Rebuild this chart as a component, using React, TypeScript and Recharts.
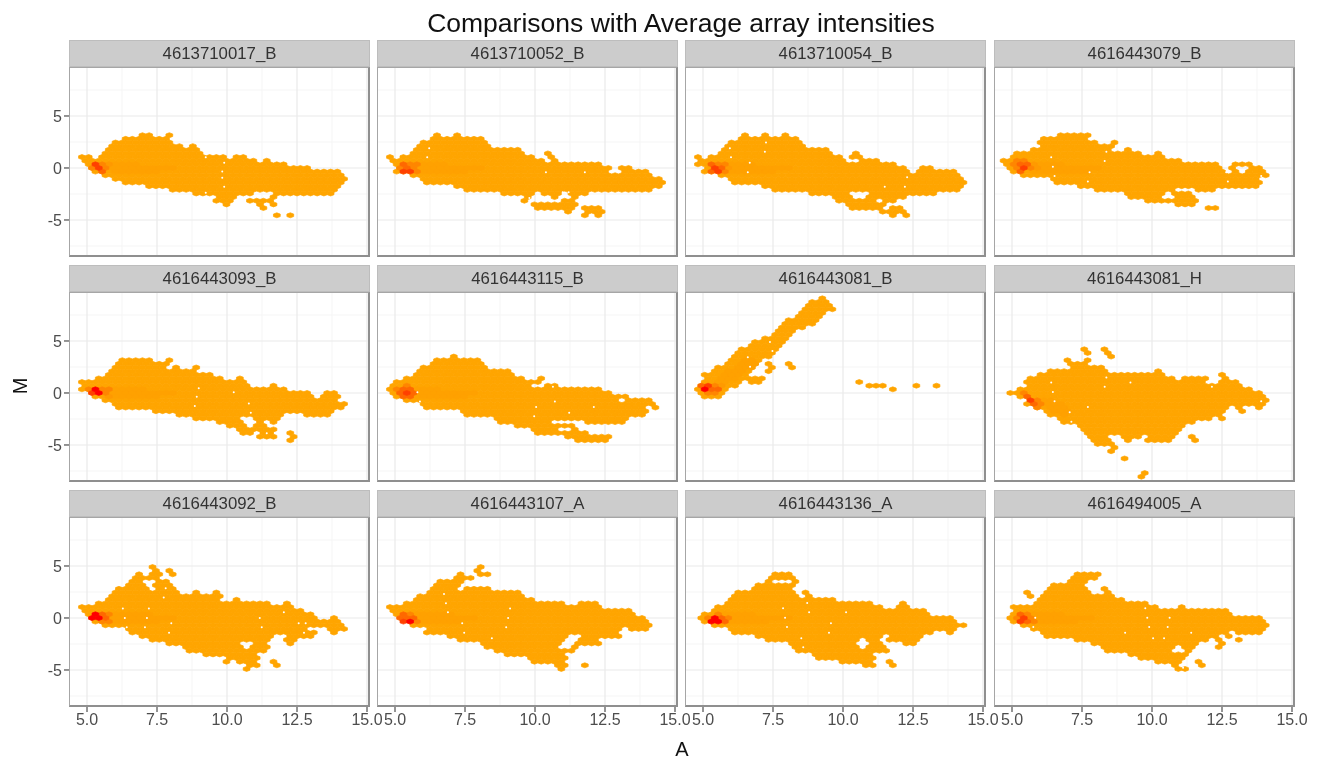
import React from 'react';
import { ScatterChart, Scatter, XAxis, YAxis, CartesianGrid } from 'recharts';

const sampleNames = [
  '4613710017_B', '4613710052_B', '4613710054_B', '4616443079_B',
  '4616443093_B', '4616443115_B', '4616443081_B', '4616443081_H',
  '4616443092_B', '4616443107_A', '4616443136_A', '4616494005_A',
];

const aTicks = [5, 7.5, 10, 12.5, 15];
const aMinorTicks = [6.25, 8.75, 11.25, 13.75];
const mTicks = [-5, 0, 5];
const mMinorTicks = [-7.5, -2.5, 2.5, 7.5];

// each row: M of the hex row, then from/to pairs of A for the filled runs
const rows01 = [
  [3.15, 6.77, 7.37, 7.73, 8.02], [2.8, 6.3, 8.0], [2.45, 5.82, 8.14], [2.1, 5.64, 8.56, 8.74, 8.98],
  [1.75, 5.52, 9.1], [1.4, 5.4, 9.24], [1.05, 4.75, 5.1, 5.3, 9.95, 10.3, 10.66], [0.7, 4.7, 11.1, 11.4, 11.65],
  [0.35, 4.8, 12.25], [0, 5, 12.95], [-0.35, 5.05, 14.05], [-0.7, 5.45, 14.2], [-1.05, 5.95, 14.3],
  [-1.4, 6.35, 14.1], [-1.75, 7.1, 14], [-2.1, 8, 14], [-2.45, 8.75, 10.95, 11.75, 13.8],
  [-2.8, 9.5, 10.35, 11.4, 11.75], [-3.15, 9.5, 10.3, 10.65, 11.75], [-3.5, 9.95, 10.2, 11.1, 11.4, 11.65, 11.85],
  [-3.85, 11.1, 11.4], [-4.55, 11.6, 11.85, 12.25, 12.5],
];
const rows02 = [
  [3.15, 6.4, 6.7, 7.1, 7.38], [2.8, 6.26, 8.2], [2.45, 5.85, 8.42], [2.1, 5.7, 8.55], [1.75, 5.57, 9.53],
  [1.4, 5.5, 9.67, 10.3, 10.64], [1.05, 4.74, 4.88, 5.15, 5.3, 5.43, 10.08, 10.36, 10.7], [0.7, 4.74, 10.3, 10.5, 10.9],
  [0.35, 4.8, 12.3], [0, 4.95, 12.65, 13, 13.6], [-0.35, 5, 12.65, 13, 14.05], [-0.7, 5.5, 14.3], [-1.05, 5.85, 14.66],
  [-1.4, 5.9, 14.75], [-1.75, 7.1, 14.5], [-2.1, 7.45, 14.3], [-2.45, 8.7, 9.95, 10.3, 10.85, 11.1, 11.9],
  [-2.8, 9.5, 9.8, 10.65, 10.9, 11.2, 11.5], [-3.15, 9.5, 9.8, 10.85, 11.5], [-3.5, 9.95, 11.5],
  [-3.85, 10, 11.45, 11.75, 12.3], [-4.2, 11.1, 11.4, 11.7, 12.5], [-4.55, 11.6, 11.8, 12.25, 12.5],
];
const rows03 = [
  [3.15, 6.4, 6.7, 7.1, 7.38, 7.9, 8.1], [2.8, 6.26, 8.4], [2.45, 5.85, 8.5], [2.1, 5.7, 8.6], [1.75, 5.57, 9.5],
  [1.4, 5.45, 9.7, 10.4, 10.65], [1.05, 4.7, 4.9, 5.1, 5.3, 5.4, 10.05, 10.3, 10.7], [0.7, 4.7, 10.2, 10.5, 11.3],
  [0.35, 4.75, 12.0], [0, 4.95, 12.4, 12.8, 13.3], [-0.35, 5, 12.4, 12.7, 14], [-0.7, 5.45, 14.2], [-1.05, 5.85, 14.3],
  [-1.4, 5.9, 14.5], [-1.75, 7, 14.4], [-2.1, 7.5, 14.1], [-2.45, 8.7, 10.3, 10.8, 13.3],
  [-2.8, 9.5, 10.3, 10.9, 12.2], [-3.15, 9.7, 11.2, 11.5, 11.9], [-3.5, 10, 11.5], [-3.85, 10.2, 11.4, 11.7, 12.1],
  [-4.2, 11.2, 12.2], [-4.55, 11.6, 12.0, 12.2, 12.5],
];
const rows04 = [
  [3.15, 6.58, 7.77], [2.8, 6.1, 7.83], [2.45, 5.93, 8.13, 8.48, 8.79], [2.1, 5.87, 8.43, 8.5, 8.8],
  [1.75, 5.7, 8.6, 8.9, 9.3], [1.4, 4.92, 9.68, 10.04, 10.33], [1.05, 4.8, 10.57], [0.7, 4.62, 11.17],
  [0.35, 4.62, 12.3, 12.95, 13.6], [0, 4.86, 12.6, 12.7, 13.07, 13.4, 13.85], [-0.35, 4.92, 12.65, 12.77, 13.07, 13.4, 13.85, 13.9, 14.2],
  [-0.7, 5.27, 13.85, 13.9, 14.1], [-1.05, 6.4, 13.85], [-1.4, 6.52, 13.85], [-1.75, 7.24, 13.8],
  [-2.1, 7.95, 10.87, 11.52, 12.18], [-2.45, 9.08, 10.4, 10.75, 11.46], [-2.8, 9.2, 10.4, 10.75, 11.6],
  [-3.15, 9.7, 11.6], [-3.5, 10.75, 11.64], [-3.85, 11.85, 12.5],
];
const rows05 = [
  [3.15, 6.17, 7.35, 7.77, 8.04], [2.8, 6.03, 8], [2.45, 5.82, 7.9, 8.03, 8.3, 8.7, 8.95], [2.1, 5.75, 9], [1.75, 5.6, 9.43],
  [1.4, 5.2, 9.9, 10.3, 10.55], [1.05, 4.7, 10.7], [0.7, 4.7, 10.75, 11.45, 11.72], [0.35, 4.78, 12.2],
  [0, 4.92, 12.97, 13.4, 13.95], [-0.35, 5.05, 13.1, 13.3, 14], [-0.7, 5.4, 14.08], [-1.05, 5.9, 14.3], [-1.4, 6, 14.2],
  [-1.75, 7.35, 13.95], [-2.1, 8.2, 12.07, 12.75, 13.8], [-2.45, 8.67, 10.6, 10.85, 11.95],
  [-2.8, 9.5, 10.7, 11.1, 11.3, 11.6, 11.9], [-3.15, 9.85, 10.75, 11, 11.45], [-3.5, 10.25, 11.75],
  [-3.85, 10.33, 10.9, 11.1, 11.7, 12.07, 12.35], [-4.2, 11.1, 11.7, 12.15, 12.4], [-4.55, 12.2, 12.5],
];
const rows06 = [
  [3.5, 6.96, 7.1], [3.15, 6.47, 8.07], [2.8, 6.33, 8.14], [2.45, 5.92, 8.28], [2.1, 5.85, 9.18], [1.75, 5.7, 9.4],
  [1.4, 5.3, 9.53, 10.1, 10.43], [1.05, 5, 9.95, 10.08, 10.36], [0.7, 4.8, 10, 10.36, 10.9], [0.35, 4.67, 12.38],
  [0, 4.74, 12.65], [-0.35, 4.88, 13.35], [-0.7, 5.3, 13, 13.28, 14.3], [-1.05, 5.85, 14.4], [-1.4, 5.9, 14.05, 14.25, 14.4],
  [-1.75, 7.24, 14.05], [-2.1, 7.45, 14.05], [-2.45, 8.55, 13.4], [-2.8, 8.6, 10.64, 11.68, 13.2], [-3.15, 9.3, 11.4],
  [-3.5, 9.8, 10.9, 11.33, 11.54], [-3.85, 9.88, 10.85, 10.98, 11.9], [-4.2, 10.92, 12.65], [-4.55, 11.47, 12.65],
];
const rows07 = [
  [9.1, 9.14, 9.44], [8.75, 8.67, 9.56], [8.4, 8.6, 9.62], [8.05, 8.55, 9.74], [7.7, 8.37, 9.32], [7.35, 8.25, 9.2],
  [7, 7.9, 9.08], [6.65, 7.83, 9.02], [6.3, 7.7, 8.72], [5.95, 7.53, 8.43], [5.6, 7.48, 8.3], [5.25, 7, 8.2],
  [4.9, 6.82, 8.07], [4.55, 6.64, 7.9], [4.2, 6.23, 7.83], [3.85, 6.05, 7.7], [3.5, 5.93, 7.6], [3.15, 5.93, 7.24],
  [2.8, 5.7, 7.06, 7.12, 7.36, 8.05, 8.3], [2.45, 5.33, 6.94, 7.24, 7.48, 8.05, 8.3], [2.1, 5.15, 6.82, 7.27, 7.48],
  [1.75, 4.98, 6.76], [1.4, 4.92, 7.18], [1.05, 4.8, 6.35, 6.52, 7.12, 10.4, 10.75], [0.7, 4.73, 6.22, 10.87, 11.52, 12.53, 12.83, 13.13, 13.42],
  [0.35, 4.68, 5.99, 11.76, 11.94], [0, 4.8, 5.75], [-0.35, 4.8, 5.75],
];
const rows08 = [
  [4.2, 7.5, 7.8, 8.2, 8.43], [3.85, 7.6, 7.72, 8.2, 8.55], [3.5, 8.37, 8.6], [3.15, 6.88, 7.12, 7.48, 7.83], [2.8, 7, 7.7],
  [2.45, 7, 8.37], [2.1, 6.17, 8.37, 10.1, 10.4], [1.75, 5.8, 10.4, 12.5, 12.7], [1.4, 5.57, 10.75, 11.05, 11.95, 12.4, 12.65],
  [1.05, 5.5, 12, 12.35, 13.07], [0.7, 5.45, 13.2], [0.35, 5.03, 13.6], [0, 4.8, 14.02], [-0.35, 5.27, 14.2], [-0.7, 5.4, 14.2],
  [-1.05, 5.5, 14.1], [-1.4, 5.7, 12.77, 12.95, 13.25, 13.8, 14.02], [-1.75, 6.05, 12.65, 13, 13.25], [-2.1, 6.2, 12.55],
  [-2.45, 6.7, 12.06, 12.35, 12.55], [-2.8, 6.82, 11.6], [-3.15, 7.36, 11.22], [-3.5, 7.36, 11.1], [-3.85, 7.48, 10.93],
  [-4.2, 7.77, 8.43, 8.9, 9.56, 9.74, 10.8, 11.4, 11.6], [-4.55, 7.9, 8.67, 8.97, 9.08, 9.8, 10.63, 11.4, 11.64],
  [-4.9, 7.95, 8.6], [-5.25, 8.5, 8.8], [-5.6, 8.55, 8.7], [-6.3, 8.82, 9.06], [-7.7, 9.62, 9.86], [-8.05, 9.66, 9.8],
];
const rows09 = [
  [4.9, 7.35, 7.5], [4.55, 7.28, 7.55, 7.9, 8.18], [4.2, 6.8, 7, 7.15, 7.63, 7.97, 8.1], [3.85, 6.65, 7.7], [3.5, 6.5, 7.05, 7.4, 7.95],
  [3.15, 6.38, 7.05, 7.4, 8.1], [2.8, 5.97, 7.14, 7.35, 8.25], [2.45, 5.82, 8.32, 8.74, 8.95, 9.36, 9.64], [2.1, 5.75, 9.78],
  [1.75, 5.6, 9.85, 10.2, 10.4], [1.4, 5.2, 11.5, 11.93, 12.14], [1.05, 4.7, 12.35], [0.7, 4.7, 12.7], [0.35, 4.85, 13.1],
  [0, 5.05, 13.25, 13.75, 13.95], [-0.35, 5.2, 14.1], [-0.7, 5.47, 14.15], [-1.05, 6.24, 12.98, 13.6, 14.3], [-1.4, 6.38, 13.25, 13.74, 14.08],
  [-1.75, 6.72, 11.72, 12.14, 13.18], [-2.1, 7.2, 11.65, 12, 12.5], [-2.45, 7.7, 10.55, 10.95, 11.5, 12.2, 12.5],
  [-2.8, 8.4, 10.55, 10.9, 11.45], [-3.15, 8.53, 11.37], [-3.5, 9, 11.17], [-3.85, 9.85, 11.24],
  [-4.2, 9.85, 10.1, 10.33, 11.1, 11.58, 11.86], [-4.55, 10.6, 11.24, 11.65, 11.8], [-4.9, 10.68, 10.95],
];
const rows10 = [
  [4.9, 7.93, 8.07], [4.55, 7.86, 8.2], [4.2, 7.1, 7.6, 7.8, 8.35], [3.85, 7.03, 7.86], [3.5, 6.47, 7.5], [3.15, 6.33, 7.3],
  [2.8, 6.2, 7.24, 7.5, 8.4], [2.45, 6.12, 9.6], [2.1, 5.78, 9.67], [1.75, 5.57, 9.95], [1.4, 5.3, 11.2, 11.47, 12.17],
  [1.05, 4.67, 12.38], [0.7, 4.74, 13.42], [0.35, 4.95, 13.55], [0, 5.22, 13.9], [-0.35, 5.43, 14.1], [-0.7, 5.5, 14.1],
  [-1.05, 5.99, 13.07, 13.2, 14.1], [-1.4, 6.05, 12.93], [-1.75, 6.75, 11.1, 11.54, 13.14], [-2.1, 7.24, 11.05, 11.4, 12.4],
  [-2.45, 8.07, 11, 11.4, 12.1, 12.17, 12.5], [-2.8, 8.14, 10.9, 11.2, 11.54], [-3.15, 8.55, 11.4], [-3.5, 8.97, 11.2],
  [-3.85, 9.8, 11.1], [-4.2, 9.88, 10.98], [-4.55, 10.64, 11.2, 11.54, 11.9], [-4.9, 10.7, 11.1],
];
const rows11 = [
  [4.2, 7.44, 8.28], [3.85, 7.3, 8.28], [3.5, 7.24, 7.5, 8.14, 8.28], [3.15, 6.82, 8.28], [2.8, 6.68, 8.2],
  [2.45, 6.13, 8.28, 8.63, 8.9], [2.1, 6.05, 8.35, 8.63, 8.97], [1.75, 5.85, 9.8], [1.4, 5.78, 11.1, 11.9, 12.25],
  [1.05, 5.3, 11.34, 11.8, 12.3], [0.7, 5.22, 13], [0.35, 4.88, 13.1], [0, 4.8, 13.9], [-0.35, 5, 13.97], [-0.7, 5.15, 14.4],
  [-1.05, 5.9, 14.1], [-1.4, 6, 13.2, 13.7, 13.9], [-1.75, 6.75, 11.4, 11.68, 12.93], [-2.1, 7.17, 10.57, 10.9, 11.4, 11.6, 12.7],
  [-2.45, 8.07, 10.5, 10.9, 11.54, 12.17, 12.58], [-2.8, 8.07, 10.5, 10.9, 11.6], [-3.15, 8.28, 11.7], [-3.5, 8.9, 11.1],
  [-3.85, 8.97, 11.2], [-4.2, 9.8, 11.1, 11.54, 11.82], [-4.55, 10.57, 11.2, 11.6, 11.75],
];
const rows12 = [
  [4.2, 7.12, 8.24], [3.85, 6.99, 8], [3.5, 6.85, 7.82], [3.15, 6.36, 7.68], [2.8, 6.22, 7.75, 8.17, 8.44],
  [2.45, 5.46, 5.67, 6.15, 7.96, 8.17, 8.5], [2.1, 5.46, 5.74, 6, 8.65], [1.75, 5.94, 9.07], [1.4, 5.74, 10],
  [1.05, 4.97, 10.25, 10.87, 11.15], [0.7, 4.97, 12.68], [0.35, 4.83, 12.82], [0, 4.83, 14], [-0.35, 4.97, 14], [-0.7, 5.25, 14.14],
  [-1.05, 5.53, 14.2], [-1.4, 6, 12.75, 13.03, 14], [-1.75, 6.22, 12.47, 12.75, 12.96], [-2.1, 7.2, 12, 12.2, 12.6, 13.03, 13.24],
  [-2.45, 7.75, 11.64, 12.26, 12.54], [-2.8, 8.17, 10.74, 11.15, 11.64, 12.33, 12.6], [-3.15, 8.24, 10.67, 11.08, 11.5],
  [-3.5, 9, 11.43], [-3.85, 9.42, 11.22], [-4.2, 10.18, 11.15, 11.57, 11.85], [-4.55, 10.67, 11, 11.57, 11.8], [-4.9, 10.74, 11.36],
];
const panelRows = [rows01, rows02, rows03, rows04, rows05, rows06, rows07, rows08, rows09, rows10, rows11, rows12];

// slightly deeper orange runs behind the dense spot
const warmRows = [
  [[0.35, 5.7, 7], [0, 5.7, 8.2], [-0.35, 5.8, 7.6]],
  [[0.35, 5.8, 7], [0, 5.7, 8.3], [-0.35, 5.8, 7.6]],
  [[0.35, 5.8, 7], [0, 5.7, 8.3], [-0.35, 5.8, 7.6]],
  [[0.35, 5.8, 7], [0, 5.7, 8.2], [-0.35, 5.6, 7.8]],
  [[0.35, 5.7, 7.2], [0, 5.7, 8.2], [-0.35, 5.8, 7.6]],
  [[0.35, 5.7, 6.6], [0, 5.7, 8], [-0.35, 5.7, 7.6]],
  [[1.05, 5.3, 6], [1.4, 5.5, 6.2], [1.75, 5.6, 6.4], [2.1, 5.8, 6.6], [2.45, 6, 6.8], [2.8, 6.2, 6.9], [3.15, 6.4, 7]],
  [[-0.7, 5.9, 6.6], [-1.05, 6, 6.8], [-1.4, 6.2, 7], [-1.75, 6.4, 7.2], [-2.1, 6.6, 7]],
  [[0.35, 5.7, 7.4], [0, 5.7, 8.2], [-0.35, 5.8, 7.6]],
  [[0.35, 5.7, 7.2], [0, 5.7, 8], [-0.35, 5.8, 7.4]],
  [[0.35, 5.7, 7], [0, 5.8, 8.2], [-0.35, 5.9, 7.4]],
  [[0.35, 5.7, 7], [0, 5.8, 8], [-0.35, 5.9, 7.4]],
];

// [A, M, level] of the dense bins, level picks the colour
const hotCells = [
  [[5.3, 0.35, 4], [5.42, 0, 4], [5.18, 0, 2], [5.54, 0.35, 2], [5.54, -0.35, 3], [5.66, 0, 2], [5.78, 0.35, 1]],
  [[5.3, 0.35, 3], [5.42, 0, 3], [5.3, -0.35, 4], [5.54, -0.35, 4], [5.54, 0.35, 2], [5.66, 0, 2], [5.78, 0.35, 2], [5.78, -0.35, 2], [5.18, 0, 2]],
  [[5.3, 0.35, 3], [5.42, 0, 4], [5.54, -0.35, 4], [5.3, -0.35, 3], [5.66, 0, 3], [5.54, 0.35, 2], [5.78, 0.35, 2], [5.78, -0.35, 2], [5.9, 0, 1]],
  [[5.18, 0.7, 2], [5.42, 0.7, 2], [5.06, 0.35, 2], [5.3, 0.35, 3], [5.54, 0.35, 3], [5.18, 0, 2], [5.42, 0, 4], [5.3, -0.35, 3], [5.66, 0, 2], [5.78, 0.35, 1], [5.9, 0, 1]],
  [[5.3, 0.35, 5], [5.18, 0, 4], [5.42, 0, 5], [5.54, 0.35, 2], [5.66, 0, 2], [5.78, 0.35, 2], [5.06, 0.35, 2], [5.78, -0.35, 1]],
  [[5.42, 0.7, 2], [5.3, 0.35, 3], [5.54, 0.35, 3], [5.18, 0, 3], [5.42, 0, 4], [5.66, 0, 3], [5.3, -0.35, 3], [5.54, -0.35, 3], [5.06, 0.35, 2]],
  [[4.94, 0.7, 3], [5.18, 0.7, 4], [5.06, 0.35, 5], [5.3, 0.35, 3], [5.54, 0.35, 3], [5.18, 0, 2], [5.42, 0, 2], [5.42, 0.7, 2], [5.66, 0.7, 1]],
  [[5.54, -0.35, 3], [5.66, -0.7, 4], [5.78, -1.05, 3], [5.42, 0, 2], [5.9, -0.7, 2], [6.02, -1.05, 2], [5.9, -1.4, 2]],
  [[5.3, 0.35, 5], [5.18, 0, 5], [5.42, 0, 5], [5.54, 0.35, 3], [5.66, 0, 3], [5.78, -0.35, 2], [5.54, -0.35, 2], [5.78, 0.35, 2]],
  [[5.3, 0.35, 3], [5.18, 0, 3], [5.42, 0, 3], [5.3, -0.35, 4], [5.54, -0.35, 5], [5.66, 0, 3], [5.78, -0.35, 2], [5.54, 0.35, 2]],
  [[5.42, 0, 5], [5.3, -0.35, 5], [5.54, -0.35, 5], [5.66, 0, 3], [5.78, -0.35, 3], [5.18, 0, 2], [5.54, 0.35, 2], [5.9, 0, 2]],
  [[5.3, 0.35, 3], [5.54, 0.35, 2], [5.42, 0, 4], [5.3, -0.35, 4], [5.54, -0.35, 3], [5.18, 0, 2], [5.66, 0, 2], [5.78, -0.35, 2]],
];

// tiny empty specks inside the blobs, [A, M]
const pinholes = [
  [[9.24, 1.03], [9.9, 0.5], [9.83, -0.35], [9.83, -0.93], [9.9, -1.8], [9.24, -2.37], [10.43, -2.9]],
  [[6.22, 1.89], [6.15, 1.03], [10.39, -0.42], [11.78, -0.42], [9.8, -2.88], [10.99, -2.34], [11.2, -2.34]],
  [[7.25, 2.44], [5.96, 1.89], [7.21, 1.57], [6, 1.03], [6.67, 0.51], [6.6, -0.42], [12.29, -0.9], [11.49, -1.8], [12.21, -1.8]],
  [[6.4, 1.03], [6.46, 0.13], [8.37, 1.57], [8.31, 0.67], [7.77, -0.42], [6.52, -0.77], [7.71, -1.31], [12.65, -0.42], [12.71, -1.31], [13.9, -0.77]],
  [[8.99, 0.45], [10.24, 0.06], [8.92, -0.36], [8.85, -1.25], [10.78, -1], [10.85, -1.9], [11.42, -3.88]],
  [[5.8, 0.06], [5.89, -0.83], [10.64, 0.61], [10.71, -0.83], [10.04, -1.35], [9.97, -2.24], [11.22, -1.89], [12.1, -1.35]],
  [[7.39, 4.9], [6.6, 3.43], [7.48, 4.04], [6.68, 2.53]],
  [[6.4, 1], [6.46, 0.1], [8.37, 1.5], [8.31, 0.61], [9.23, 1], [6.52, -0.8], [7.71, -1.35], [7.06, -1.86], [7.12, -2.76], [7.12, -3.3], [12.14, 0.61], [13.9, -0.8]],
  [[6.28, 0.9], [6.35, 0], [6.42, -0.9], [7.21, 0.9], [7.14, 0], [7.07, -0.9], [8.01, -0.51], [7.93, -1.41], [7.81, 2.85], [7.74, 1.96], [11.17, 0], [11.24, -0.9], [12.03, 0.54], [12.56, -0.51], [12.81, -0.51], [12.75, -1.41]],
  [[6.75, 2.31], [6.82, 1.41], [6.89, 0.54], [9.11, 0.9], [9.04, 0], [8.97, -0.9], [7.4, -0.51], [7.47, -1.41], [8.46, -1.96]],
  [[7.86, 0.93], [7.93, 0.03], [8, -0.87], [8.72, 1.44], [8.79, 0.54], [9.57, -0.51], [9.5, -1.41], [10.11, 0.54], [8.51, -1.96], [8.58, -2.82]],
  [[9.76, 0.93], [9.83, 0.03], [9.9, -0.87], [10.63, 0.03], [10.56, -0.87], [9.04, -1.41], [10.04, -1.96], [10.43, -1.96], [11.4, -1.41], [5.83, 0.03], [5.76, -0.87], [11.11, -4.78]],
];

const BASE_COLOR = '#FFA500';
const WARM_COLOR = '#FFA100';
const LEVEL_COLORS = ['', '#FF9A00', '#FF8600', '#FF6800', '#FF4000', '#FF0000'];

// hex bin grid
const BIN_A = 0.24;
const BIN_M = 0.35;
const GRID_A0 = 4.7;

const colLeft = [69, 377, 685, 994];
const rowTop = [67, 292, 517];
const PLOT_W = 301;
const PLOT_H = 190;
const STRIP_H = 27;
const FONT = '"Liberation Sans", Arial, sans-serif';

const cellsOf = (rows: number[][]) => {
  const out: { a: number; m: number }[] = [];
  rows.forEach(([m, ...runs]) => {
    const k = Math.round(m / BIN_M);
    const shift = k % 2 === 0 ? 0 : BIN_A / 2;
    for (let r = 0; r < runs.length; r += 2) {
      let first = Math.ceil((runs[r] + 0.03 - GRID_A0 - shift) / BIN_A);
      let last = Math.floor((runs[r + 1] - 0.03 - GRID_A0 - shift) / BIN_A);
      if (last < first) {
        first = Math.round(((runs[r] + runs[r + 1]) / 2 - GRID_A0 - shift) / BIN_A);
        last = first;
      }
      for (let i = first; i <= last; i++) out.push({ a: GRID_A0 + shift + i * BIN_A, m });
    }
  });
  return out;
};

const hexShape = (fill: string) => (props: any) => {
  const { cx, cy } = props;
  const w = 3.4;
  const h = 2.5;
  return (
    <path
      d={`M${cx},${cy - h}L${cx + w},${cy - h / 2}L${cx + w},${cy + h / 2}L${cx},${cy + h}L${cx - w},${cy + h / 2}L${cx - w},${cy - h / 2}Z`}
      fill={fill}
      stroke={fill}
      strokeWidth={0.7}
    />
  );
};

const holeShape = (props: any) => <circle cx={props.cx} cy={props.cy} r={1} fill="#fff" />;

const axisTick = { fill: '#4D4D4D', fontSize: 16, fontFamily: FONT };

const Panel = ({ index }: { index: number }) => {
  const col = index % 4;
  const row = Math.floor(index / 4);
  const showY = col === 0;
  const showX = row === 2;
  const yWidth = 69;
  const xHeight = 50;
  const hot = hotCells[index].map(([a, m, level]) => ({ a, m, level }));
  const holes = pinholes[index].map(([a, m]) => ({ a, m }));
  return (
    <>
      <div style={{ position: 'absolute', left: colLeft[col] - (showY ? yWidth : 0), top: rowTop[row] }}>
        <ScatterChart
          width={PLOT_W + (showY ? yWidth : 0) + 25}
          height={PLOT_H + (showX ? xHeight : 0)}
          margin={{ top: 0, right: 25, bottom: 0, left: 0 }}
        >
          <CartesianGrid stroke="#F5F5F5" strokeWidth={1} verticalValues={aMinorTicks} horizontalValues={mMinorTicks} syncWithTicks={false} />
          <CartesianGrid stroke="#EAEAEA" strokeWidth={1.2} verticalValues={aTicks} horizontalValues={mTicks} syncWithTicks={false} />
          <XAxis
            type="number"
            dataKey="a"
            domain={[4.357, 15.107]}
            allowDataOverflow
            ticks={aTicks}
            interval={0}
            hide={!showX}
            height={xHeight}
            tickFormatter={(v: number) => v.toFixed(1)}
            tick={axisTick}
            tickSize={5}
            tickLine={{ stroke: '#4D4D4D', strokeWidth: 1.2 }}
            axisLine={false}
          />
          <YAxis
            type="number"
            dataKey="m"
            domain={[-8.56, 9.71]}
            allowDataOverflow
            ticks={mTicks}
            interval={0}
            hide={!showY}
            width={yWidth}
            tick={axisTick}
            tickSize={5}
            tickLine={{ stroke: '#4D4D4D', strokeWidth: 1.2 }}
            axisLine={false}
          />
          <Scatter data={cellsOf(panelRows[index])} shape={hexShape(BASE_COLOR)} isAnimationActive={false} />
          <Scatter data={cellsOf(warmRows[index])} shape={hexShape(WARM_COLOR)} isAnimationActive={false} />
          {[1, 2, 3, 4, 5].map((level) => (
            <Scatter
              key={level}
              data={hot.filter((c) => c.level === level)}
              shape={hexShape(LEVEL_COLORS[level])}
              isAnimationActive={false}
            />
          ))}
          <Scatter data={holes} shape={holeShape} isAnimationActive={false} />
        </ScatterChart>
      </div>
      <div
        style={{
          position: 'absolute',
          left: colLeft[col],
          top: rowTop[row],
          width: PLOT_W,
          height: PLOT_H,
          boxSizing: 'border-box',
          borderStyle: 'solid',
          borderColor: '#A6A6A6 #8F8F8F #8F8F8F #A6A6A6',
          borderWidth: '1px 2px 2px 1px',
          pointerEvents: 'none',
        }}
      />
      <div
        style={{
          position: 'absolute',
          left: colLeft[col],
          top: rowTop[row] - STRIP_H,
          width: PLOT_W,
          height: STRIP_H,
          boxSizing: 'border-box',
          background: '#CCCCCC',
          border: '1px solid #BDBDBD',
          color: '#333',
          fontFamily: FONT,
          fontSize: 16.8,
          lineHeight: `${STRIP_H - 2}px`,
          textAlign: 'center',
        }}
      >
        {sampleNames[index]}
      </div>
    </>
  );
};

export default function App() {
  return (
    <div style={{ position: 'absolute', left: 0, top: 0, width: 1320, height: 760, background: '#fff', overflow: 'hidden', fontFamily: FONT, filter: 'blur(0.5px)' }}>
      <div style={{ position: 'absolute', left: 0, top: 8, width: 1362, textAlign: 'center', fontSize: 26.5, color: '#111' }}>
        Comparisons with Average array intensities
      </div>
      {sampleNames.map((_, i) => (
        <Panel key={i} index={i} />
      ))}
      <div style={{ position: 'absolute', left: 0, top: 738, width: 1364, textAlign: 'center', fontSize: 20, color: '#111' }}>A</div>
      <div
        style={{
          position: 'absolute',
          left: 20,
          top: 386,
          fontSize: 20,
          color: '#111',
          transform: 'translate(-50%, -50%) rotate(-90deg)',
        }}
      >
        M
      </div>
    </div>
  );
}
